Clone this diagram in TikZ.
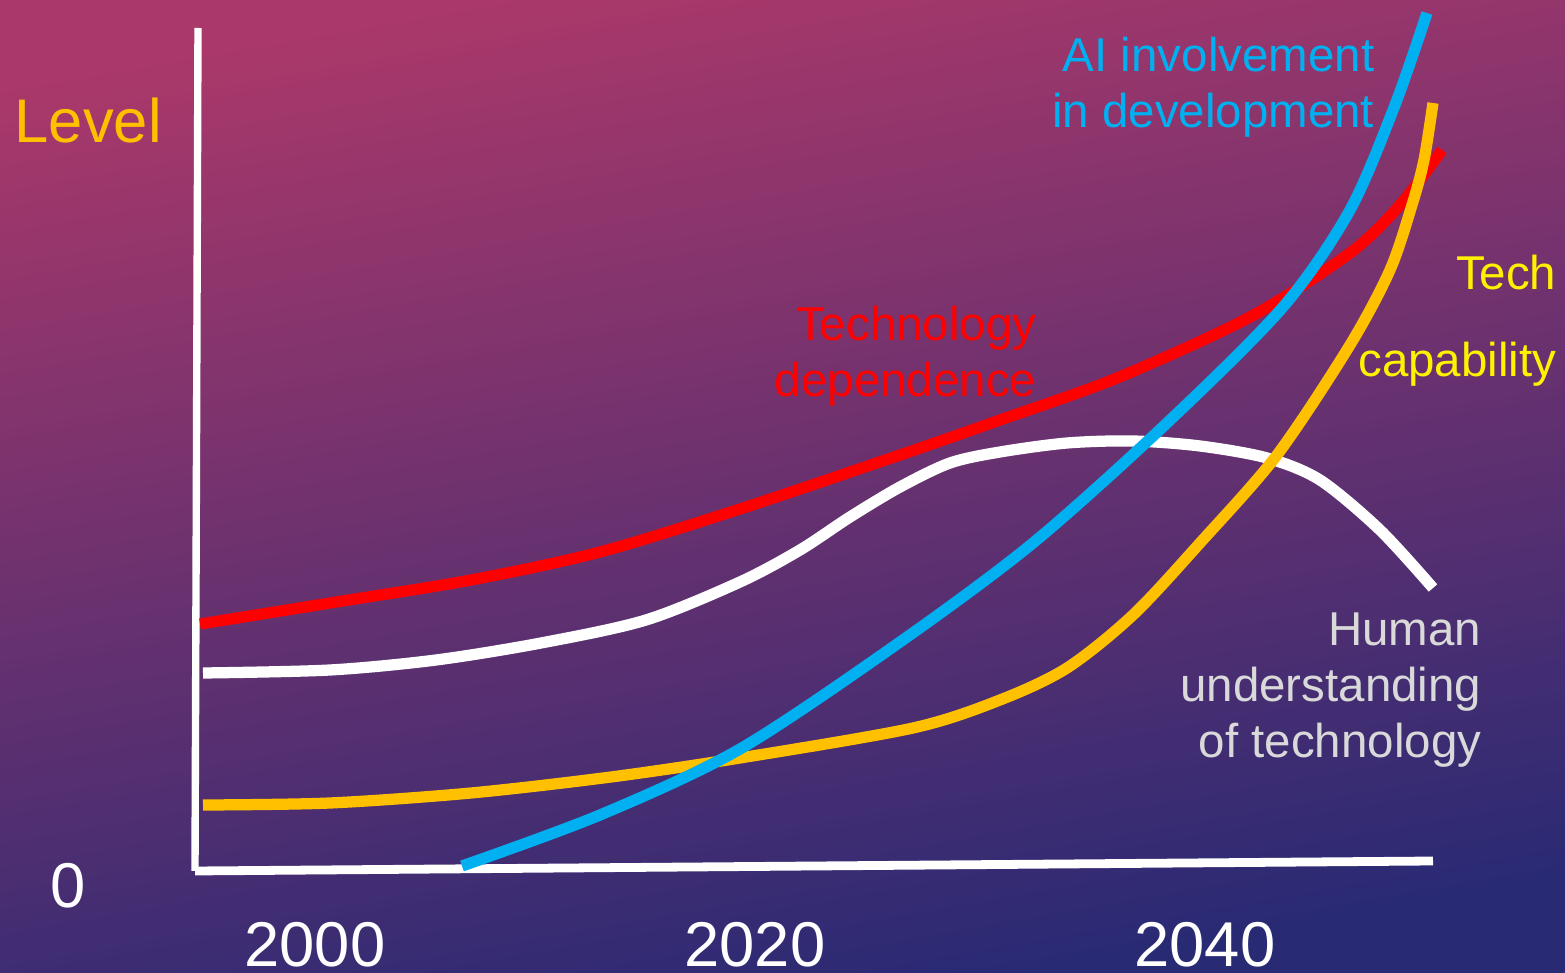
\documentclass[tikz,border=0pt]{standalone}
\usepackage{fontspec}
\setmainfont{Liberation Sans}
\usepackage{tikz}
\definecolor{bgtop}{RGB}{170,56,106}
\definecolor{bgmid}{RGB}{112,45,110}
\definecolor{bgbot}{RGB}{40,42,116}
\definecolor{aiblue}{RGB}{0,176,240}
\definecolor{capyellow}{RGB}{255,192,0}
\definecolor{humangray}{RGB}{217,217,217}
\tikzset{curve/.style={line width=3.2pt},
  lab/.style={inner sep=0pt,align=right,font=\fontsize{13.5}{16}\selectfont},
  yearlab/.style={inner sep=0pt,anchor=base,text=white,font=\fontsize{18}{18}\selectfont}}

\begin{document}
\begin{tikzpicture}[x=0.01cm,y=-0.01cm]
      \useasboundingbox (0,0) rectangle (1565,973);
      \shade[top color=bgtop,middle color=bgmid,bottom color=bgbot,shading angle=10] (0,0) rectangle (1565,973);
      \coordinate (ytop) at (198,28);
      \coordinate (origin) at (195,871);
      \coordinate (xend) at (1433,861);
      \draw[white,line width=2.1pt] (ytop)--(origin);
      \draw[white,line width=2.5pt] (origin)--(xend);
      \draw[curve,white] plot[smooth] coordinates {(203,673) (330,670) (436,660) (541,643) (646,620) (740,582) (800,550) (850,517) (900,487) (950,463) (1000,452) (1067,443) (1133,441) (1200,446) (1267,458) (1320,480) (1380,530) (1433,588)};
      \draw[curve,red] plot[smooth] coordinates {(200,624) (330,603) (471,580) (600,552) (740,509) (900,455) (1000,420) (1117,378) (1250,317) (1350,253) (1400,205) (1442,150)};
      \draw[curve,capyellow] plot[smooth] coordinates {(203,805) (330,803) (471,793) (611,777) (740,758) (913,728) (1000,700) (1067,668) (1133,615) (1200,543) (1277,455) (1350,345) (1390,270) (1412,205) (1424,160) (1433,103)};
      \draw[curve,aiblue] plot[smooth] coordinates {(462,866) (600,815) (740,749) (900,642) (1033,543) (1167,423) (1283,307) (1350,210) (1395,105) (1427,13)};
      \node (level) [inner sep=0pt,anchor=base west,text=capyellow,font=\fontsize{17.5}{18}\selectfont] at (14,143) {Level};
      \node (zero) [yearlab] at (68,908) {0};
      \node (y2000) [yearlab] at (315,967) {2000};
      \node (y2020) [yearlab] at (755,967) {2020};
      \node (y2040) [yearlab] at (1205,967) {2040};
      \node (ailab) [lab,anchor=base east,text=aiblue] at (1375,128) {AI involvement\\in development};
      \node (deplab) [lab,anchor=base east,text=red] at (1037,397) {Technology\\dependence};
      \node (techlab) [lab,anchor=base east,text=yellow,font=\fontsize{13.5}{24.8}\selectfont] at (1557,377) {Tech\\capability};
      \node (humanlab) [lab,anchor=base east,text=humangray] at (1482,758) {Human\\understanding\\of technology};
\end{tikzpicture}
\end{document}
